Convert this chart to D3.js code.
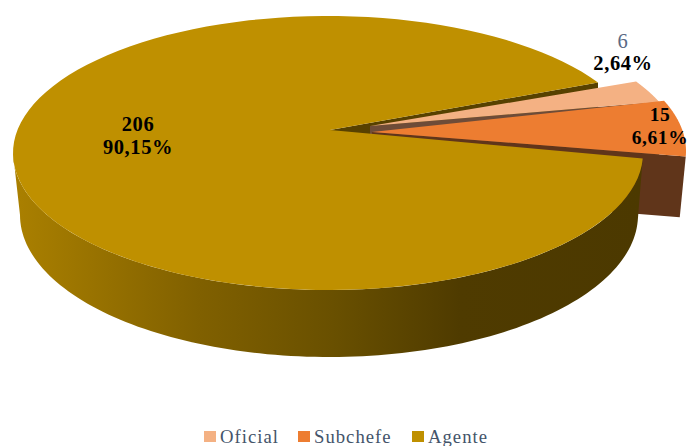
<!DOCTYPE html>
<html>
<head>
<meta charset="utf-8">
<script src="https://cdn.jsdelivr.net/npm/d3@7"></script>
<style>
  html, body { margin: 0; padding: 0; background: #fff; }
  svg { display: block; }
  text { font-family: "Liberation Serif", serif; }
</style>
</head>
<body>
<script>
// Staff counts by rank, with the percentage captions as printed on the chart
const categories = ["Oficial", "Subchefe", "Agente"];
const counts = [6, 15, 206];
const percentLabels = ["2,64%", "6,61%", "90,15%"];
const topColors = ["#f4b183", "#ed7d31", "#bf9000"];
const cutColors = ["#6e4c38", "#60351a", "#574100"];

const width = 687, height = 446;
const deg = Math.PI / 180;

const svg = d3.select("body").append("svg")
  .attr("width", width).attr("height", height);

// Tilted-pie geometry: every slice has its own ellipse centre (explosion)
// and its own apex, since the tips sit above the ellipse centres.
const geometry = {
  Oficial:  { cx: 366, cy: 152, ax: 370, ay: 126, rx: 315, ry: 137, bcx: 366, bcy: 212, brx: 309, bry: 142 },
  Subchefe: { cx: 371, cy: 151, ax: 372, ay: 132, rx: 315, ry: 137, bcx: 371, bcy: 211.5, brx: 309, bry: 142 },
  Agente:   { cx: 328, cy: 153, ax: 330, ay: 130, rx: 315, ry: 137, bcx: 329, bcy: 215, brx: 309, bry: 142 }
};

const pie = d3.pie().sort(null).startAngle(59 * deg).endAngle(419 * deg);
const slices = pie(counts).map((s, i) => ({
  ...s, name: categories[i], top: topColors[i], cut: cutColors[i], g: geometry[categories[i]]
}));
const byName = Object.fromEntries(slices.map(s => [s.name, s]));

const onTop = (g, a) => [g.cx + g.rx * Math.sin(a), g.cy - g.ry * Math.cos(a)];
const onBottom = (g, a) => [g.bcx + g.brx * Math.sin(a), g.bcy - g.bry * Math.cos(a)];
const arcAngles = (a0, a1) => d3.range(0, 121).map(k => a0 + (a1 - a0) * k / 120);
const closed = d3.line().curve(d3.curveLinearClosed);

// Side wall shading runs from mid gold on the left to deep brown on the right
const defs = svg.append("defs");
const grad = defs.append("linearGradient").attr("id", "wall")
  .attr("gradientUnits", "userSpaceOnUse")
  .attr("x1", 20).attr("x2", 640).attr("y1", 0).attr("y2", 0);
[[0, "#a97f00"], [0.29, "#806000"], [0.505, "#695000"], [0.71, "#4f3b00"], [1, "#4c3900"]]
  .forEach(([o, c]) => grad.append("stop").attr("offset", o).attr("stop-color", c));

// Radial cut face of a slice, seen along the edge at the given angle
function cutFace(s, angle, depth) {
  const g = s.g, p = onTop(g, angle);
  const b = depth == null ? onBottom(g, angle) : [p[0], p[1] + depth];
  return closed([[g.ax, g.ay], p, b, [g.ax, g.ay + (b[1] - p[1])]]);
}
function topFace(s) {
  const g = s.g;
  return closed([[g.ax, g.ay], ...arcAngles(s.startAngle, s.endAngle).map(a => onTop(g, a))]);
}

const ag = byName.Agente, sub = byName.Subchefe, of = byName.Oficial;

// Painted back to front
svg.append("path").attr("d", cutFace(ag, ag.endAngle, 60)).attr("fill", ag.cut);
svg.append("path").attr("d", cutFace(of, of.endAngle, 60)).attr("fill", of.cut);
svg.append("path").attr("d", cutFace(sub, sub.endAngle)).attr("fill", sub.cut);

// Outer wall of the large slice, from its right end round to the left extreme
const wallAngles = arcAngles(ag.startAngle, 270 * deg);
svg.append("path")
  .attr("d", closed([
    ...wallAngles.map(a => onTop(ag.g, a)),
    ...wallAngles.slice().reverse().map(a => onBottom(ag.g, a))
  ]))
  .attr("fill", "url(#wall)");

svg.selectAll("path.top").data([ag, of, sub]).join("path")
  .attr("class", "top")
  .attr("d", topFace)
  .attr("fill", d => d.top);

// Data labels: count above percentage
const labelPos = {
  Oficial:  { x: 623, y1: 48,  y2: 70,  size: 20.5 },
  Subchefe: { x: 660, y1: 121, y2: 144, size: 19.5 },
  Agente:   { x: 138, y1: 131, y2: 154, size: 20.5 }
};
slices.forEach((s, i) => {
  const p = labelPos[s.name];
  svg.append("text").attr("x", p.x).attr("y", p.y1).attr("text-anchor", "middle")
    .attr("font-size", p.size).attr("letter-spacing", 0.6)
    .attr("font-weight", s.name === "Oficial" ? "normal" : "bold")
    .attr("fill", s.name === "Oficial" ? "#5a6a85" : "#000")
    .text(counts[i]);
  svg.append("text").attr("x", p.x).attr("y", p.y2).attr("text-anchor", "middle")
    .attr("font-size", p.size).attr("letter-spacing", 0.6)
    .attr("font-weight", "bold").attr("fill", "#000")
    .text(percentLabels[i]);
});

// Legend along the bottom edge
const legendX = d3.scaleOrdinal().domain(categories).range([204, 298, 412]);
const legend = svg.selectAll("g.legend").data(slices).join("g")
  .attr("class", "legend")
  .attr("transform", d => `translate(${legendX(d.name)},431)`);
legend.append("rect").attr("width", 12).attr("height", 11).attr("fill", d => d.top);
legend.append("text").attr("x", 16).attr("y", 11.5)
  .attr("font-size", 18.7).attr("letter-spacing", 1).attr("fill", "#44546a")
  .text(d => d.name);
</script>
</body>
</html>
